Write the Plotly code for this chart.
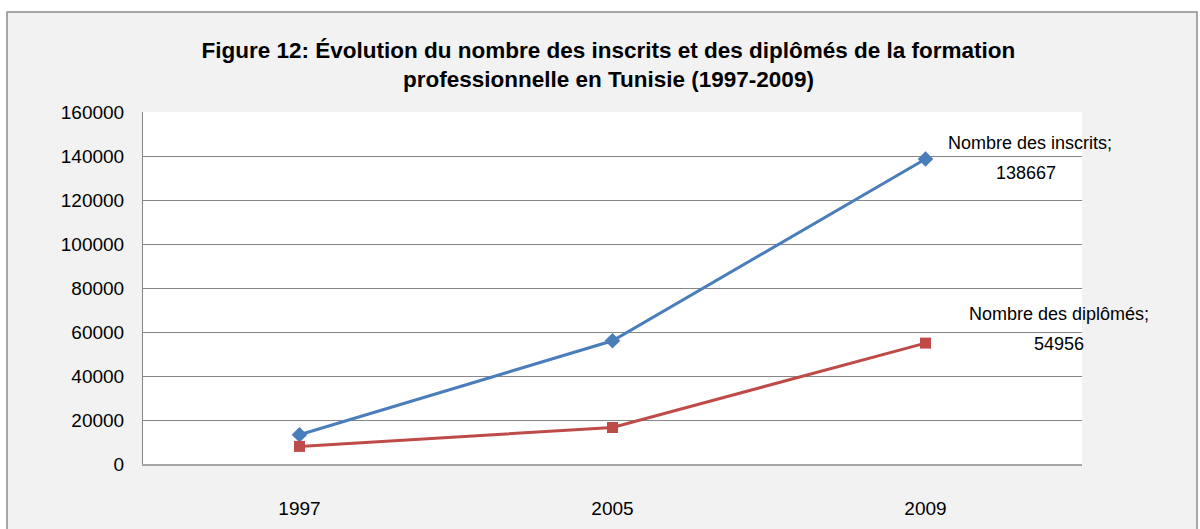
import plotly.graph_objects as go

years = ["1997", "2005", "2009"]
inscrits = [13300, 56000, 138667]
diplomes = [8000, 16600, 54956]
y_ticks = [0, 20000, 40000, 60000, 80000, 100000, 120000, 140000, 160000]
title_text = ("Figure 12: Évolution du nombre des inscrits et des diplômés de la formation"
              "<br>professionnelle en Tunisie (1997-2009)")
label_inscrits = "Nombre des inscrits;"
label_diplomes = "Nombre des diplômés;"

FONT = "Liberation Sans Narrow, Arial Narrow, Liberation Sans, sans-serif"
W, H = 1200, 529
L, R, T, B = 143, 118, 112, 65
PW, PH = W - L - R, H - T - B

def px(xp):
    return (xp - L) / PW

def py(yp):
    return (H - B - yp) / PH

fig = go.Figure()
fig.add_trace(go.Scatter(
    x=years, y=inscrits, mode="lines+markers", name="Nombre des inscrits",
    line=dict(color="#4a7ebb", width=3),
    marker=dict(symbol="diamond", size=12, color="#4a7ebb"),
))
fig.add_trace(go.Scatter(
    x=years, y=diplomes, mode="lines+markers", name="Nombre des diplômés",
    line=dict(color="#be4b48", width=3),
    marker=dict(symbol="square", size=11, color="#be4b48"),
))

last = len(years) - 1  # category index of the last year
lab_font = dict(family=FONT, size=18, color="#000000")
fig.add_annotation(x=last, y=inscrits[-1], xref="x", yref="y", text=label_inscrits,
                   showarrow=False, xshift=104, yshift=16, font=lab_font)
fig.add_annotation(x=last, y=inscrits[-1], xref="x", yref="y", text=str(inscrits[-1]),
                   showarrow=False, xshift=100, yshift=-14, font=lab_font)
fig.add_annotation(x=last, y=diplomes[-1], xref="x", yref="y", text=label_diplomes,
                   showarrow=False, xshift=133, yshift=29, font=lab_font)
fig.add_annotation(x=last, y=diplomes[-1], xref="x", yref="y", text=str(diplomes[-1]),
                   showarrow=False, xshift=133, yshift=-1, font=lab_font)

# outer chart frame: white strips outside the grey chart area + border
shapes = [
    dict(type="rect", xref="paper", yref="paper", x0=px(0), x1=px(W), y0=py(12), y1=py(0),
         fillcolor="white", line=dict(width=0), layer="above"),
    dict(type="rect", xref="paper", yref="paper", x0=px(0), x1=px(7), y0=py(H), y1=py(0),
         fillcolor="white", line=dict(width=0), layer="above"),
    dict(type="rect", xref="paper", yref="paper", x0=px(1197), x1=px(W), y0=py(H), y1=py(0),
         fillcolor="white", line=dict(width=0), layer="above"),
    dict(type="rect", xref="paper", yref="paper", x0=px(7), x1=px(1197), y0=py(H + 5), y1=py(12),
         fillcolor="rgba(0,0,0,0)", line=dict(color="#8c8c8c", width=1.5), layer="above"),
]

fig.update_layout(
    width=W, height=H,
    margin=dict(l=L, r=R, t=T, b=B, autoexpand=False),
    paper_bgcolor="#f2f2f2", plot_bgcolor="white",
    showlegend=False,
    shapes=shapes,
    title=dict(text=title_text, x=0.507, xanchor="center", y=1 - 58 / H, yanchor="middle",
               font=dict(family=FONT, size=22.5, color="#000000", weight="bold"), automargin=False),
    font=dict(family=FONT, size=19, color="#000000"),
)
fig.update_xaxes(
    type="category", categoryorder="array", categoryarray=years, range=[-0.5, 2.5],
    showgrid=False, showline=True, linecolor="#a6a6a6", linewidth=2,
    ticks="outside", ticklen=26, tickcolor="rgba(0,0,0,0)", automargin=False,
    tickfont=dict(family=FONT, size=19, color="#000000"), zeroline=False,
)
fig.update_yaxes(
    range=[0, 160000], tickvals=y_ticks, ticktext=[str(v) for v in y_ticks],
    showgrid=True, gridcolor="#868686", gridwidth=1, automargin=False,
    showline=True, linecolor="#868686", linewidth=1, zeroline=False,
    ticks="outside", ticklen=14, tickcolor="rgba(0,0,0,0)",
    tickfont=dict(family=FONT, size=19, color="#000000"),
)

fig.write_html("out.html", config={"displayModeBar": False},
               post_script="document.body.style.margin='0';document.body.style.overflow='hidden';")
